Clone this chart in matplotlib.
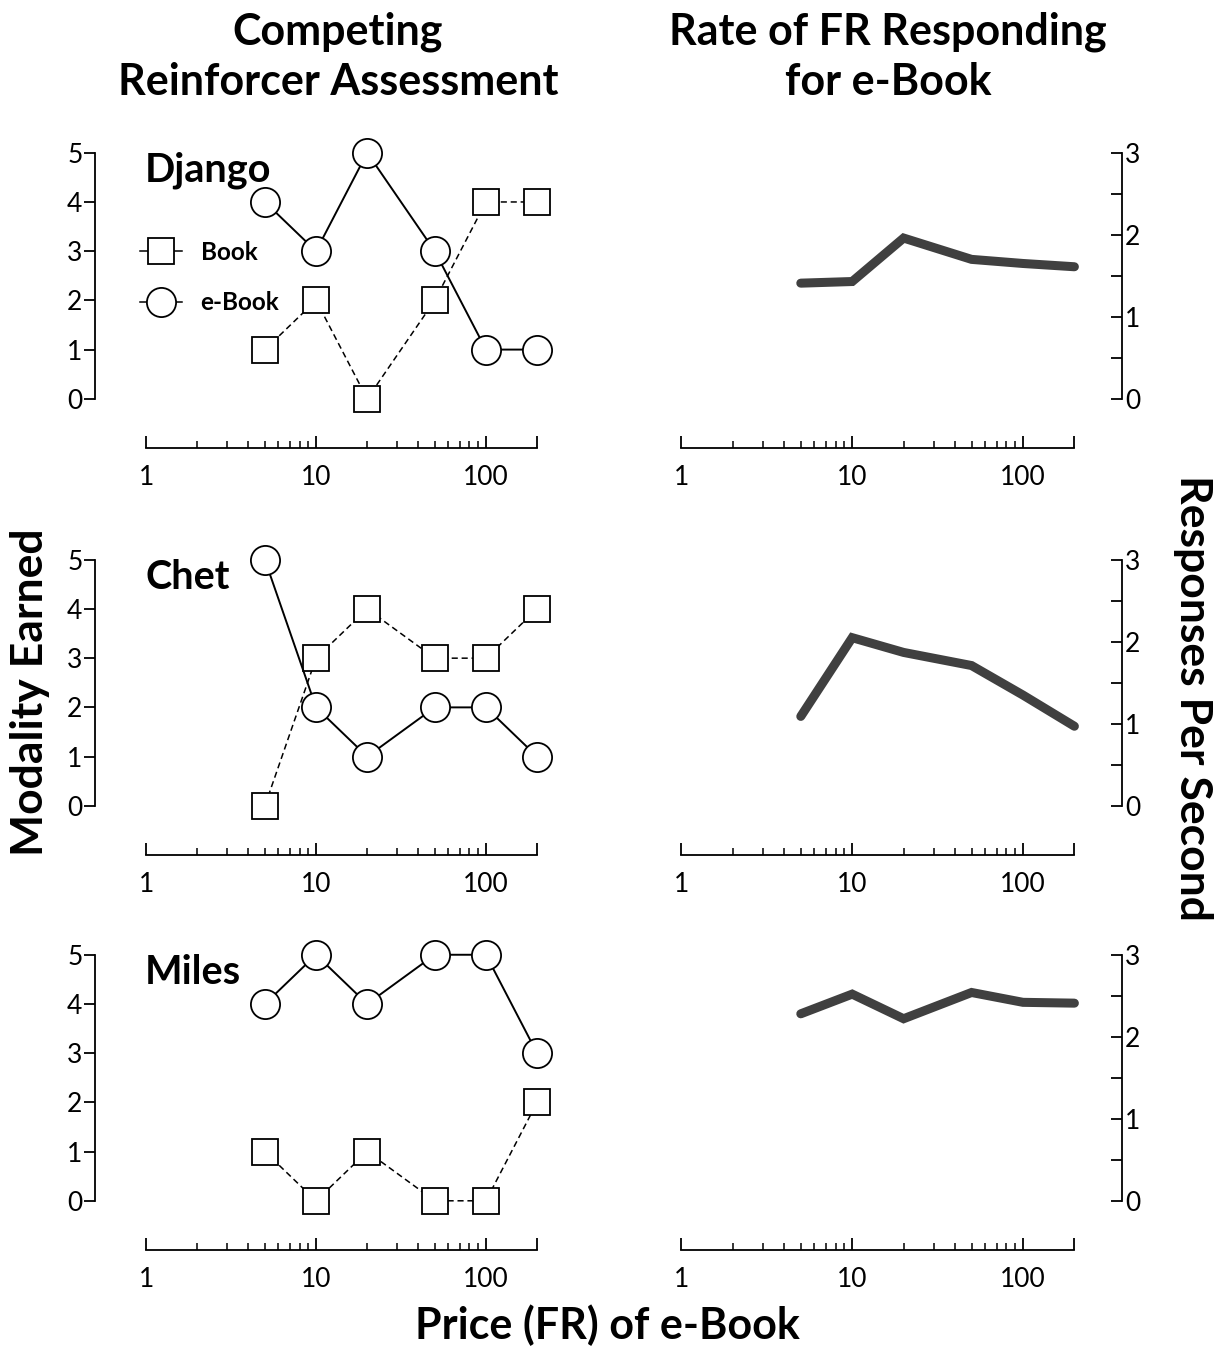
import matplotlib
matplotlib.use("Agg")
import matplotlib.pyplot as plt
from matplotlib.lines import Line2D

plt.rcParams['font.family'] = ['Lato', 'DejaVu Sans']

prices = [5, 10, 20, 50, 100, 200]
names = ["Django", "Chet", "Miles"]

django_book = [1, 2, 0, 2, 4, 4]
django_ebook = [4, 3, 5, 3, 1, 1]
chet_book = [0, 3, 4, 3, 3, 4]
chet_ebook = [5, 2, 1, 2, 2, 1]
miles_book = [1, 0, 1, 0, 0, 2]
miles_ebook = [4, 5, 4, 5, 5, 3]

django_rate = [1.41, 1.43, 1.96, 1.70, 1.65, 1.61]
chet_rate = [1.09, 2.05, 1.87, 1.71, 1.35, 0.97]
miles_rate = [2.28, 2.52, 2.22, 2.54, 2.42, 2.41]

books = [django_book, chet_book, miles_book]
ebooks = [django_ebook, chet_ebook, miles_ebook]
rates = [django_rate, chet_rate, miles_rate]

W, H = 1225, 1353
fig = plt.figure(figsize=(W / 100, H / 100), dpi=100)

xticks = [1, 10, 100, 200]
xticklabels = ["1", "10", "100", ""]
minor = [2, 3, 4, 5, 6, 7, 8, 9, 20, 30, 40, 50, 60, 70, 80, 90]
bottoms = [448, 855, 1250]
ax_h = 310


def style_x(ax):
    ax.set_xscale("log")
    ax.spines["top"].set_visible(False)
    ax.spines["bottom"].set_bounds(1, 200)
    ax.spines["bottom"].set_linewidth(1.3)
    ax.set_xticks(xticks)
    ax.set_xticklabels(xticklabels)
    ax.set_xticks(minor, minor=True)
    ax.xaxis.set_minor_formatter(plt.NullFormatter())
    ax.tick_params(axis="x", which="major", direction="in", length=9, width=1.3,
                   labelsize=19, pad=12)
    ax.tick_params(axis="x", which="minor", direction="in", length=5, width=1.1)


for i in range(3):
    b = bottoms[i]
    # left panel: competing reinforcer assessment
    ax = fig.add_axes([95 / W, (H - b) / H, 472 / W, ax_h / H])
    ax.plot(prices, books[i], color="black", lw=1.1, ls=(0, (4, 2.5)),
            marker="s", ms=19, mfc="white", mec="black", mew=1.3, label="Book")
    ax.plot(prices, ebooks[i], color="black", lw=1.4,
            marker="o", ms=21, mfc="white", mec="black", mew=1.3, label="e-Book")
    style_x(ax)
    ax.set_xlim(0.5, 300)
    ax.set_ylim(-1, 5.3)
    ax.spines["right"].set_visible(False)
    ax.spines["left"].set_bounds(0, 5)
    ax.spines["left"].set_linewidth(1.3)
    ax.set_yticks([0, 1, 2, 3, 4, 5])
    ax.tick_params(axis="y", direction="out", length=8, width=1.3, labelsize=19, pad=1)
    ax.text(0.106, 0.955, names[i], transform=ax.transAxes, fontsize=28.5,
            fontweight="bold", va="top", ha="left")
    if i == 0:
        handles = [
            Line2D([], [], color="black", lw=1.1, marker="s", ms=19, mfc="white",
                   mec="black", mew=1.3),
            Line2D([], [], color="black", lw=1.1, marker="o", ms=21, mfc="white",
                   mec="black", mew=1.3),
        ]
        ax.legend(handles, ["Book", "e-Book"], loc="upper left",
                  bbox_to_anchor=(0.095, 0.668), frameon=False,
                  borderpad=0, borderaxespad=0, handlelength=1.75,
                  handletextpad=0.75, labelspacing=1.12,
                  prop={"size": 17.5, "weight": "bold"})

    # right panel: rate of FR responding
    ax2 = fig.add_axes([630 / W, (H - b) / H, 492 / W, ax_h / H])
    ax2.plot(prices, rates[i], color="#404040", lw=6.5, solid_capstyle="round",
             solid_joinstyle="miter")
    style_x(ax2)
    ax2.set_xlim(0.5, 380)
    ax2.set_ylim(-0.6, 3.18)
    ax2.spines["left"].set_visible(False)
    ax2.spines["right"].set_bounds(0, 3)
    ax2.spines["right"].set_linewidth(1.3)
    ax2.yaxis.tick_right()
    ax2.set_yticks([0, 1, 2, 3])
    ax2.set_yticks([0.5, 1.5, 2.5], minor=True)
    ax2.tick_params(axis="y", which="both", direction="in", length=8, width=1.3,
                    labelsize=19, pad=2)

fig.text(338 / W, 1 - 12 / H, "Competing\nReinforcer Assessment", ha="center",
         va="top", fontsize=31, fontweight="bold", linespacing=1.3)
fig.text(888 / W, 1 - 12 / H, "Rate of FR Responding\nfor e-Book", ha="center",
         va="top", fontsize=31, fontweight="bold", linespacing=1.3)
fig.text(30 / W, 1 - 692 / H, "Modality Earned", rotation=90, ha="center",
         va="center", fontsize=32, fontweight="bold")
fig.text(1193 / W, 1 - 698 / H, "Responses Per Second", rotation=270, ha="center",
         va="center", fontsize=32, fontweight="bold")
fig.text(607 / W, 1 - 1325 / H, "Price (FR) of e-Book", ha="center",
         va="center", fontsize=31, fontweight="bold")

fig.savefig("out.png", dpi=100)
